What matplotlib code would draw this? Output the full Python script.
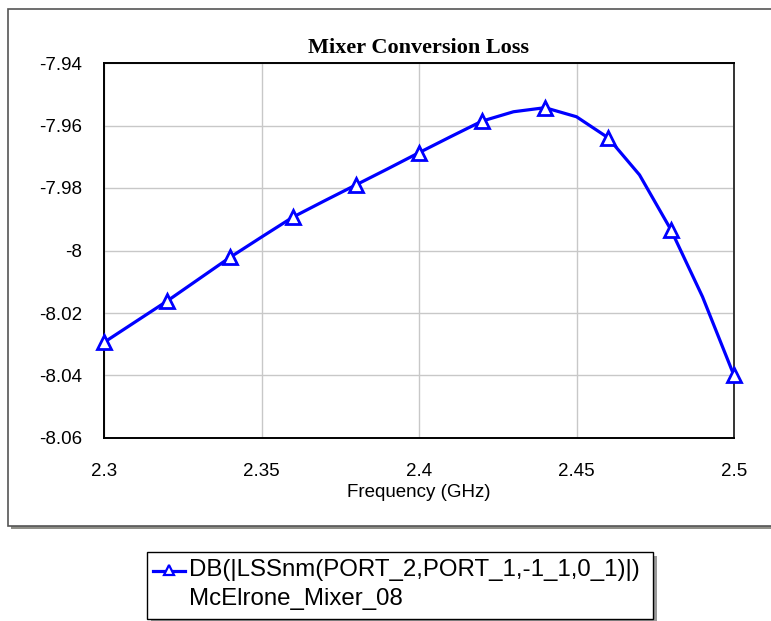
import matplotlib.pyplot as plt
from matplotlib.patches import Rectangle
from matplotlib.lines import Line2D

# frequency sweep (GHz) and conversion loss (dB)
freq = [2.30, 2.31, 2.32, 2.33, 2.34, 2.35, 2.36, 2.37, 2.38, 2.39, 2.40,
        2.41, 2.42, 2.43, 2.44, 2.45, 2.46, 2.47, 2.48, 2.49, 2.50]
loss = [-8.0294, -8.0228, -8.0162, -8.0092, -8.0022, -7.9957, -7.9893,
        -7.9841, -7.9790, -7.9739, -7.9687, -7.9636, -7.9586, -7.9556,
        -7.9543, -7.9572, -7.9639, -7.9758, -7.9934, -8.0148, -8.0400]

x_ticks = [2.3, 2.35, 2.4, 2.45, 2.5]
x_tick_labels = ['2.3', '2.35', '2.4', '2.45', '2.5']
y_ticks = [-8.06, -8.04, -8.02, -8.0, -7.98, -7.96, -7.94]
y_tick_labels = ['-8.06', '-8.04', '-8.02', '-8', '-7.98', '-7.96', '-7.94']

title = 'Mixer Conversion Loss'
x_label = 'Frequency (GHz)'
legend_label_1 = 'DB(|LSSnm(PORT_2,PORT_1,-1_1,0_1)|)'
legend_label_2 = 'McElrone_Mixer_08'

W, H = 771, 621
blue = '#0000ff'

plt.rcParams['font.family'] = ['Liberation Sans', 'DejaVu Sans']

fig = plt.figure(figsize=(W / 100, H / 100), dpi=100)
fig.patch.set_facecolor('white')


def px_box(x0, y0, x1, y1):
    # pixel box (top-left origin) -> figure fraction (left, bottom, w, h)
    return x0 / W, 1 - y1 / H, (x1 - x0) / W, (y1 - y0) / H


# outer panel with shadow
l, b, w, h = px_box(8, 9, 790, 526)
fig.patches.append(Rectangle((l + 3 / W, b - 3 / H), w, h, transform=fig.transFigure,
                             facecolor='#8f8f88', edgecolor='none', zorder=0))
fig.patches.append(Rectangle((l, b), w, h, transform=fig.transFigure,
                             facecolor='white', edgecolor='#555555', linewidth=1.2, zorder=0.5))

ax = fig.add_axes(px_box(104, 63, 734, 438))
ax.set_zorder(2)
ax.plot(freq, loss, color=blue, linewidth=2.3, marker='^', markevery=2,
        markersize=10, markeredgewidth=2, markerfacecolor='white',
        markeredgecolor=blue, clip_on=False, zorder=3)

ax.set_xlim(2.3, 2.5)
ax.set_ylim(-8.06, -7.94)
ax.set_xticks(x_ticks)
ax.set_xticklabels(x_tick_labels)
ax.set_yticks(y_ticks)
ax.set_yticklabels(y_tick_labels)
ax.tick_params(axis='both', length=0, labelsize=13.5)
ax.tick_params(axis='x', pad=18)
ax.tick_params(axis='y', pad=16)
ax.grid(True, color='#c8c8c8', linewidth=1.0)
for side in ax.spines:
    ax.spines[side].set_linewidth(1.4)
    ax.spines[side].set_color('black')
ax.spines['right'].set_color('#333333')

ax.set_title(title, fontfamily='Liberation Serif', fontweight='bold', fontsize=16, pad=7)
ax.set_xlabel(x_label, fontsize=13.5, labelpad=3)

# legend box drawn by hand
l, b, w, h = px_box(147, 552, 653, 619)
fig.patches.append(Rectangle((l + 4 / W, b - 4 / H), w, h, transform=fig.transFigure,
                             facecolor='#9a9a9a', edgecolor='none', zorder=1))
fig.patches.append(Rectangle((l, b), w, h, transform=fig.transFigure,
                             facecolor='white', edgecolor='black', linewidth=1.0, zorder=1.5))
fig.lines.append(Line2D([153 / W, 185 / W], [1 - 571 / H, 1 - 571 / H], transform=fig.transFigure,
                        color=blue, linewidth=2.3, zorder=3))
fig.lines.append(Line2D([169 / W], [1 - 570 / H], transform=fig.transFigure,
                        color=blue, marker='^', markersize=7, markeredgewidth=1.6,
                        markerfacecolor='white', zorder=3.5))
fig.text(189 / W, 1 - 576 / H, legend_label_1, fontsize=17.3, va='baseline', ha='left', zorder=4)
fig.text(189 / W, 1 - 605 / H, legend_label_2, fontsize=17.3, va='baseline', ha='left', zorder=4)

fig.savefig('out.png', dpi=100, facecolor='white')
